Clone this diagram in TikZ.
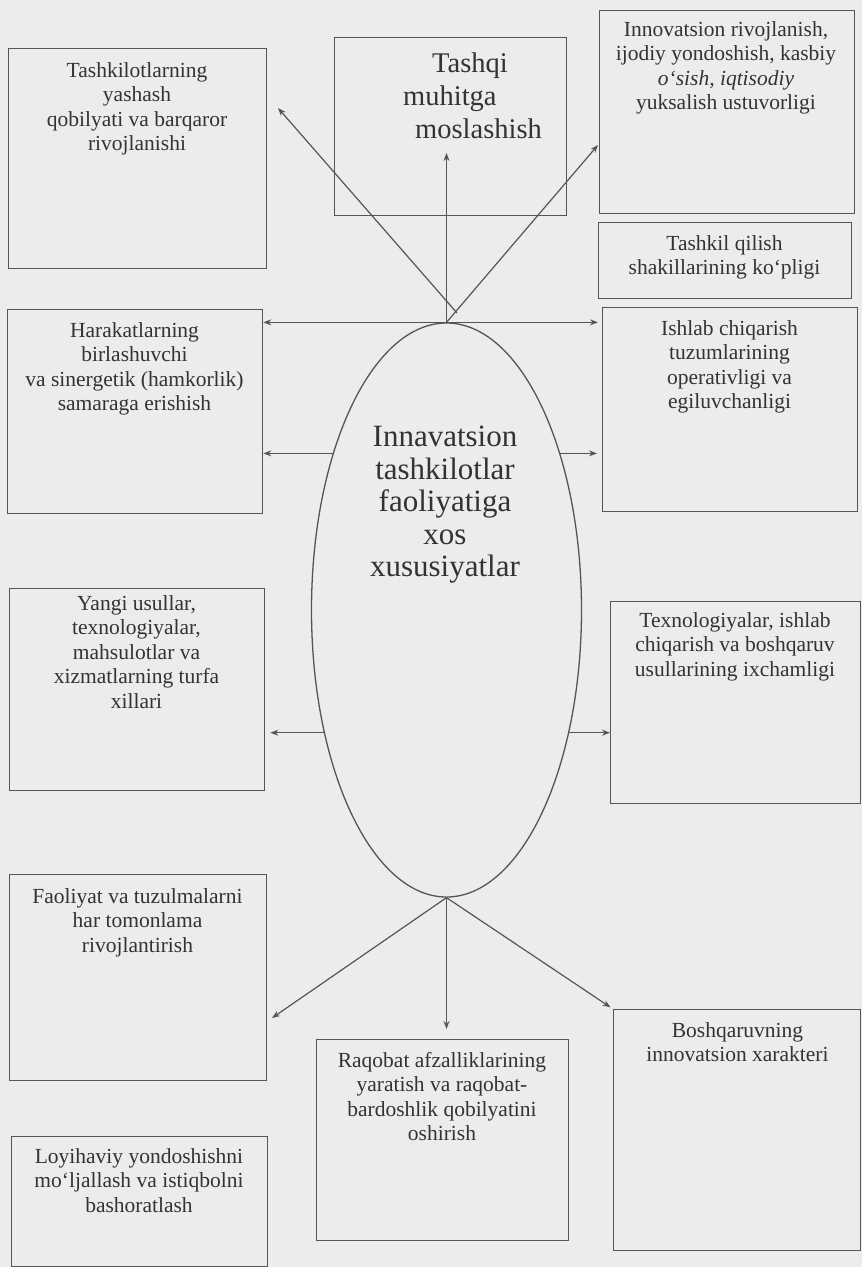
\documentclass[tikz,border=0pt]{standalone}
\usepackage{fontspec}
\setmainfont{Liberation Serif}
\usetikzlibrary{shapes.geometric,arrows.meta}
\definecolor{bg}{HTML}{ECECEC}
\definecolor{ln}{HTML}{555555}
\definecolor{tx}{HTML}{333333}
\begin{document}
\begin{tikzpicture}[x=1pt,y=-1pt,
  box/.style={draw=ln, line width=1.3pt, anchor=north west, inner sep=0pt},
  txt/.style={anchor=north, align=center, text=tx, inner sep=0pt, font=\fontsize{21.5}{24.5}\selectfont},
  arr/.style={draw=ln, line width=1.2pt, -{Stealth[length=8pt,width=6pt]}},
  ellip/.style={ellipse, draw=ln, line width=1.3pt, inner sep=0pt}
]
\useasboundingbox (0,0) rectangle (862,1267);
\fill[bg] (0,0) rectangle (862,1267);

% boxes
\node[box, minimum width=258pt, minimum height=220pt] (b1) at (8,48) {};
\node[box, minimum width=232pt, minimum height=178pt] (b2) at (334,37) {};
\node[box, minimum width=255pt, minimum height=203pt] (b3) at (599,10) {};
\node[box, minimum width=253pt, minimum height=76pt] (b4) at (598,222) {};
\node[box, minimum width=255pt, minimum height=204pt] (b5) at (602,307) {};
\node[box, minimum width=255pt, minimum height=204pt] (b6) at (7,309) {};
\node[box, minimum width=255pt, minimum height=202pt] (b7) at (9,588) {};
\node[box, minimum width=250pt, minimum height=202pt] (b8) at (610,601) {};
\node[box, minimum width=257pt, minimum height=206pt] (b9) at (9,874) {};
\node[box, minimum width=256pt, minimum height=130pt] (b10) at (11,1136) {};
\node[box, minimum width=252pt, minimum height=201pt] (b11) at (316,1039) {};
\node[box, minimum width=247pt, minimum height=241pt] (b12) at (613,1009) {};

% texts
\node[txt] (t1) at (137,62) {Tashkilotlarning\\yashash\\qobilyati va barqaror\\rivojlanishi};
\node[txt, anchor=north west, align=left, font=\fontsize{28.5}{33}\selectfont] (t2) at (403,52.5) {\hspace*{29pt}Tashqi\\muhitga\\\hspace*{12pt}moslashish};
\node[txt] (t3) at (726,21) {Innovatsion rivojlanish,\\ijodiy yondoshish, kasbiy\\\textit{o‘sish, iqtisodiy}\\yuksalish ustuvorligi};
\node[txt] (t4) at (724.5,235) {Tashkil qilish\\shakillarining ko‘pligi};
\node[txt] (t5) at (729.5,320) {Ishlab chiqarish\\tuzumlarining\\operativligi va\\egiluvchanligi};
\node[txt] (t6) at (134.5,322) {Harakatlarning\\birlashuvchi\\va sinergetik (hamkorlik)\\samaraga erishish};
\node[txt] (t7) at (136.5,595) {Yangi usullar,\\texnologiyalar,\\mahsulotlar va\\xizmatlarning turfa\\xillari};
\node[txt] (t8) at (735,612) {Texnologiyalar, ishlab\\chiqarish va boshqaruv\\usullarining ixchamligi};
\node[txt] (t9) at (137.5,888) {Faoliyat va tuzulmalarni\\har tomonlama\\rivojlantirish};
\node[txt] (t10) at (139,1148) {Loyihaviy yondoshishni\\mo‘ljallash va istiqbolni\\bashoratlash};
\node[txt] (t11) at (442,1052) {Raqobat afzalliklarining\\yaratish va raqobat-\\bardoshlik qobilyatini\\oshirish};
\node[txt] (t12) at (737.5,1022) {Boshqaruvning\\innovatsion xarakteri};

% central ellipse
\node[ellip, minimum width=270pt, minimum height=574pt] (ell) at (446.5,610) {};
\node[txt, font=\fontsize{31}{32.5}\selectfont] (ct) at (445,426) {Innavatsion\\tashkilotlar\\faoliyatiga\\xos\\xususiyatlar};

% coordinates for free ends
\coordinate (up) at (446.5,153);
\coordinate (dl) at (457,313);
\coordinate (dlt) at (278,108);
\coordinate (drt) at (598,145);
\coordinate (bl) at (272,1018);

% connectors
\draw[arr] (ell.north) -- (ell.north -| b6.east);
\draw[arr, shorten >=4pt] (ell.north) -- (ell.north -| b5.west);
\draw[arr] (ell.north) -- (up);
\draw[arr] (dl) -- (dlt);
\draw[arr] (ell.north) -- (drt);
\draw[arr] (ell.126) -- (ell.126 -| b6.east);
\draw[arr, shorten >=5pt] (ell.54) -- (ell.54 -| b5.west);
\draw[arr, shorten >=5pt] (ell.225) -- (ell.225 -| b7.east);
\draw[arr] (ell.315) -- (ell.315 -| b8.west);
\draw[arr] (ell.south) -- (bl);
\draw[arr, shorten >=10pt] (ell.south) -- (ell.south |- b11.north);
\draw[arr, shorten >=3pt] (ell.south) -- (b12.north west);
\end{tikzpicture}
\end{document}
